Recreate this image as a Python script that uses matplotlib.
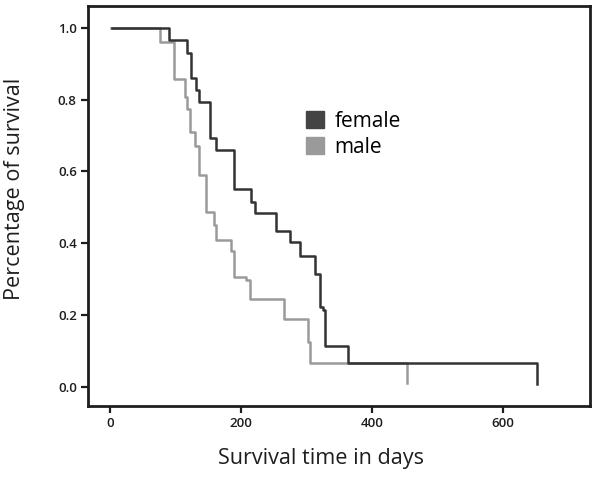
import matplotlib
matplotlib.use("Agg")
import matplotlib.pyplot as plt
from matplotlib.patches import Patch

plt.rcParams["font.family"] = ["Open Sans", "DejaVu Sans"]

# Kaplan-Meier steps (days, survival fraction)
female_days = [3, 90, 118, 123, 131, 136, 152, 161, 189, 215, 222, 253, 274,
               290, 313, 320, 325, 328, 364, 652]
female_surv = [1.0, 0.967, 0.930, 0.860, 0.828, 0.795, 0.693, 0.660, 0.551,
               0.516, 0.484, 0.435, 0.404, 0.363, 0.314, 0.221, 0.213, 0.113,
               0.065, 0.008]
male_days = [1, 76, 98, 114, 118, 122, 130, 135, 147, 159, 161, 185, 189, 207,
             213, 266, 303, 306, 453]
male_surv = [1.0, 0.960, 0.857, 0.809, 0.774, 0.709, 0.670, 0.591, 0.488,
             0.451, 0.409, 0.377, 0.307, 0.298, 0.245, 0.188, 0.126, 0.065,
             0.009]

xticks = [0, 200, 400, 600]
yticks = [0.0, 0.2, 0.4, 0.6, 0.8, 1.0]

INK = "#1e1e1e"
FEMALE, MALE = "#333333", "#9a9a9a"

fig = plt.figure(figsize=(6.02, 4.80), dpi=100)
ax = fig.add_axes([0.146, 0.154, 0.834, 0.834])

ax.step(male_days, male_surv, where="post", color=MALE, lw=1.8, zorder=2)
ax.step(female_days, female_surv, where="post", color=FEMALE, lw=1.8, zorder=3)

ax.set_xlim(-34, 733)
ax.set_ylim(-0.054, 1.062)
ax.set_xticks(xticks)
ax.set_yticks(yticks)
ax.set_yticklabels([f"{v:.1f}" for v in yticks])
ax.tick_params(length=5, width=1.6, color=INK, labelsize=9.5, labelcolor=INK, pad=3)
for lab in ax.get_xticklabels() + ax.get_yticklabels():
    lab.set_fontweight("semibold")
for s in ax.spines.values():
    s.set_linewidth(2.0)
    s.set_color(INK)

ax.set_xlabel("Survival time in days", fontsize=15.6, color=INK)
ax.set_ylabel("Percentage of survival", fontsize=15.6, color=INK)
ax.xaxis.set_label_coords(0.464, -0.105)
ax.yaxis.set_label_coords(-0.125, 0.5425)

ax.legend(handles=[Patch(color="#444444", label="female"),
                   Patch(color=MALE, label="male")],
          loc="upper left", bbox_to_anchor=(0.398, 0.785), frameon=False,
          fontsize=15, handlelength=0.85, handleheight=0.85, handletextpad=0.5,
          labelspacing=0.25)

fig.savefig("out.png", dpi=100, facecolor="white")
